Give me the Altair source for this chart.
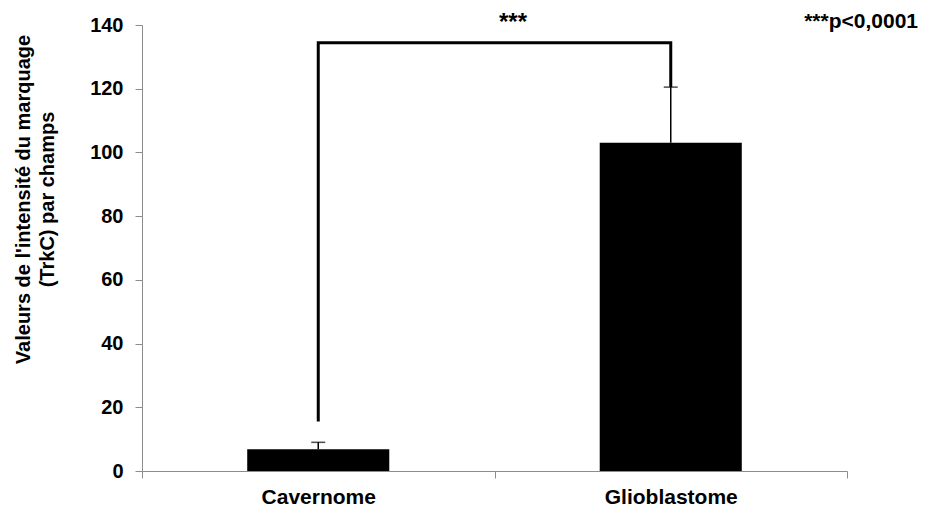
import altair as alt
import pandas as pd

categories = ["Cavernome", "Glioblastome"]
means = [6.8, 103.0]
errors = [2.2, 17.5]

bracket_x = ["Cavernome", "Cavernome", "Glioblastome", "Glioblastome"]
bracket_y = [15.5, 134.4, 134.4, 120.5]
bracket_order = [0, 1, 2, 3]

y_ticks = [0, 20, 40, 60, 80, 100, 120, 140]

FONT = "Liberation Sans"

bars_df = pd.DataFrame({
    "cat": categories,
    "mean": means,
    "upper": [m + e for m, e in zip(means, errors)],
})
bracket_df = pd.DataFrame({"cat": bracket_x, "val": bracket_y, "ord": bracket_order})

x_enc = alt.X(
    "cat:N",
    sort=categories,
    scale=alt.Scale(paddingInner=0, paddingOuter=0),
    axis=alt.Axis(
        title=None,
        labelAngle=0,
        labelFont=FONT,
        labelFontSize=21,
        labelFontWeight="bold",
        labelColor="#000000",
        labelPadding=8,
        tickBand="extent",
        tickSize=7,
        tickColor="#8c8c8c",
        domainColor="#8c8c8c",
        grid=False,
    ),
)

y_scale = alt.Scale(domain=[0, 140], nice=False)

bars = alt.Chart(bars_df).mark_bar(color="#000000", width=alt.RelativeBandSize(0.403)).encode(
    x=x_enc,
    y=alt.Y(
        "mean:Q",
        scale=y_scale,
        axis=alt.Axis(
            values=y_ticks,
            title=["Valeurs de l'intensité du marquage", "(TrkC) par champs"],
            titleFont=FONT,
            titleFontSize=20,
            titleFontWeight="bold",
            titleColor="#000000",
            titleAngle=-90,
            titleAlign="center",
            titleBaseline="alphabetic",
            titleX=-113,
            titleY=174,
            titleLineHeight=24,
            labelFont=FONT,
            labelFontSize=20,
            labelFontWeight="bold",
            labelColor="#000000",
            labelPadding=12,
            tickSize=7,
            tickColor="#8c8c8c",
            domainColor="#8c8c8c",
            grid=False,
        ),
    ),
)

err_rule = alt.Chart(bars_df).mark_rule(color="#000000", strokeWidth=1.5).encode(
    x=alt.X("cat:N", sort=categories),
    y=alt.Y("mean:Q", scale=y_scale),
    y2="upper:Q",
)

err_cap = alt.Chart(bars_df).mark_tick(color="#000000", size=14, thickness=1.5).encode(
    x=alt.X("cat:N", sort=categories),
    y=alt.Y("upper:Q", scale=y_scale),
)

bracket = alt.Chart(bracket_df).mark_line(color="#000000", strokeWidth=3, strokeJoin="miter").encode(
    x=alt.X("cat:N", sort=categories),
    y=alt.Y("val:Q", scale=y_scale),
    order="ord:Q",
)

stars = alt.Chart(pd.DataFrame({"t": ["***"]})).mark_text(
    font=FONT, fontSize=24, fontWeight="bold", color="#000000",
    align="center", baseline="alphabetic",
).encode(text="t:N", x=alt.value(371), y=alt.value(4.5))

pval = alt.Chart(pd.DataFrame({"t": ["***p<0,0001"]})).mark_text(
    font=FONT, fontSize=21, fontWeight="bold", color="#000000",
    align="right", baseline="alphabetic",
).encode(text="t:N", x=alt.value(776), y=alt.value(2.5))

chart = alt.layer(bars, err_rule, err_cap, bracket, stars, pval).properties(
    width=705,
    height=446,
    autosize=alt.AutoSizeParams(type="none"),
    padding={"left": 134, "top": 17, "right": 74, "bottom": 39},
    background="#ffffff",
).configure_view(stroke=None)

chart.save("out.html", embed_options={"renderer": "svg", "actions": False})
